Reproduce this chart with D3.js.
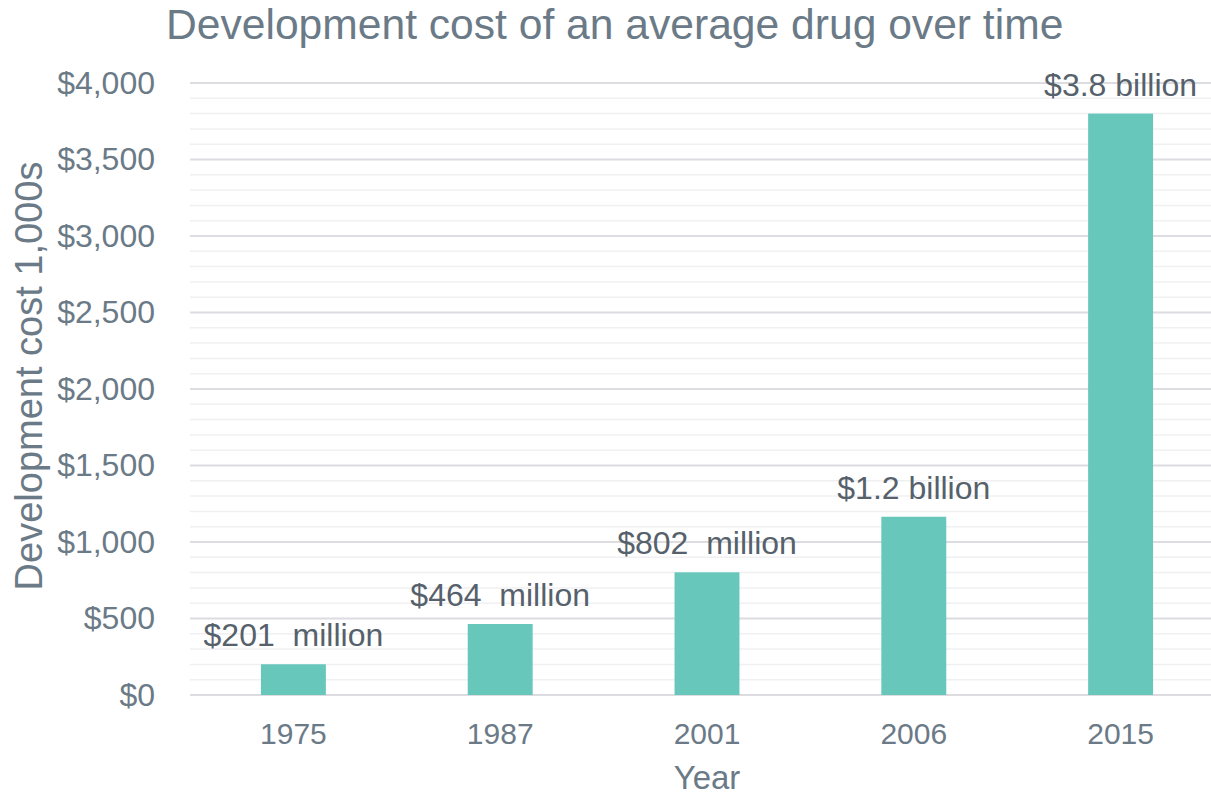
<!DOCTYPE html>
<html>
<head>
<meta charset="utf-8">
<script src="https://cdn.jsdelivr.net/npm/d3@7"></script>
<style>
  body { margin: 0; background: #fff; overflow: hidden; }
  text { font-family: "Liberation Sans", Arial, sans-serif; }
</style>
</head>
<body>
<script>
(function(){

    //chart data
    var years = ["1975", "1987", "2001", "2006", "2015"];
    var costs = [201, 464, 802, 1165, 3800];
    var barLabels = ["$201  million", "$464  million", "$802  million", "$1.2 billion", "$3.8 billion"];
    var majorTicks = [0, 500, 1000, 1500, 2000, 2500, 3000, 3500, 4000];

    window.onload = setChart();

    function setChart(){
        var width = 1211,
            height = 795,
            left = 190,
            right = 1224,
            top = 83,
            bottom = 695;

        var svg = d3.select("body")
            .append("svg")
            .attr("width", width)
            .attr("height", height);

        var x = d3.scaleBand()
            .domain(years)
            .range([left, right])
            .paddingInner(0.686)
            .paddingOuter(0.343);

        var y = d3.scaleLinear()
            .domain([0, 4000])
            .range([bottom, top]);

        //minor gridlines every 100
        svg.selectAll(".minor")
            .data(y.ticks(40).filter(function(d){ return d % 500 !== 0; }))
            .enter()
            .append("line")
            .attr("class", "minor")
            .attr("x1", left)
            .attr("x2", right)
            .attr("y1", function(d){ return y(d); })
            .attr("y2", function(d){ return y(d); })
            .attr("stroke", "#f0f0f3")
            .attr("stroke-width", 1.5);

        //major gridlines
        svg.selectAll(".major")
            .data(majorTicks)
            .enter()
            .append("line")
            .attr("class", "major")
            .attr("x1", left)
            .attr("x2", right)
            .attr("y1", function(d){ return y(d); })
            .attr("y2", function(d){ return y(d); })
            .attr("stroke", "#dcdce1")
            .attr("stroke-width", 2);

        //y axis labels
        var yAxis = svg.append("g")
            .attr("transform", "translate(155,0)")
            .call(d3.axisLeft(y).tickValues(majorTicks).tickSize(0).tickPadding(0)
                .tickFormat(function(d){ return "$" + d3.format(",")(d); }));
        yAxis.select(".domain").remove();
        yAxis.selectAll("text")
            .style("font-size", "32px")
            .style("font-family", "'Liberation Sans', Arial, sans-serif")
            .attr("fill", "#6b7a87");

        //x axis labels
        var xAxis = svg.append("g")
            .attr("transform", "translate(0," + bottom + ")")
            .call(d3.axisBottom(x).tickSize(0).tickPadding(0));
        xAxis.select(".domain").remove();
        xAxis.selectAll("text")
            .attr("dy", null)
            .attr("y", 49)
            .style("font-size", "30px")
            .style("font-family", "'Liberation Sans', Arial, sans-serif")
            .attr("fill", "#6b7a87");

        //bars
        svg.selectAll(".bars")
            .data(costs)
            .enter()
            .append("rect")
            .attr("class", "bars")
            .attr("x", function(d, i){ return x(years[i]); })
            .attr("width", x.bandwidth())
            .attr("y", function(d){ return y(d); })
            .attr("height", function(d){ return bottom - y(d); })
            .attr("fill", "#67c7bb");

        //bar value labels
        svg.selectAll(".numbers")
            .data(costs)
            .enter()
            .append("text")
            .attr("class", "numbers")
            .attr("text-anchor", "middle")
            .attr("x", function(d, i){ return x(years[i]) + x.bandwidth() / 2; })
            .attr("y", function(d){ return y(d) - 18; })
            .style("font-size", "32px")
            .style("white-space", "pre")
            .attr("fill", "#56616b")
            .text(function(d, i){ return barLabels[i]; });

        //chart title
        svg.append("text")
            .attr("x", 166)
            .attr("y", 39)
            .style("font-size", "42.6px")
            .attr("fill", "#6b7a87")
            .text("Development cost of an average drug over time");

        //axis titles
        svg.append("text")
            .attr("transform", "translate(42,376) rotate(-90)")
            .attr("text-anchor", "middle")
            .style("font-size", "38px")
            .attr("fill", "#6b7a87")
            .text("Development cost 1,000s");

        svg.append("text")
            .attr("x", 707)
            .attr("y", 789)
            .attr("text-anchor", "middle")
            .style("font-size", "33px")
            .attr("fill", "#6b7a87")
            .text("Year");
    };

})();
</script>
</body>
</html>
